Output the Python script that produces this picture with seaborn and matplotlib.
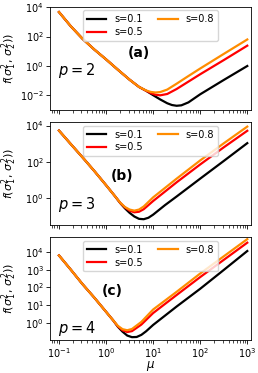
import numpy as np
import pandas as pd
import matplotlib
matplotlib.use("Agg")
import matplotlib.pyplot as plt
import matplotlib.ticker as mticker
import seaborn as sns

# --- data (log10 mu, log10 f) ---
s_labels = ["s=0.1", "s=0.5", "s=0.8"]
s_colors = ["black", "red", "darkorange"]
p_labels = ["$p=2$", "$p=3$", "$p=4$"]
panel_tags = ["(a)", "(b)", "(c)"]

# p = 2: shared descending branch, then one tail per s
a_common_mu = [-1.0, -0.75, -0.5, -0.25, 0.0, 0.25, 0.5, 0.7]
a_common_f = [3.66, 2.7, 1.85, 1.12, 0.45, -0.25, -0.93, -1.42]
a_s01_mu = [0.85, 1.0, 1.15, 1.3, 1.4, 1.5, 1.6, 1.75, 2.0, 2.5, 3.0]
a_s01_f = [-1.68, -1.98, -2.27, -2.53, -2.65, -2.7, -2.67, -2.47, -1.92, -0.95, 0.0]
a_s05_mu = [0.85, 0.95, 1.05, 1.15, 1.3, 1.5, 1.75, 2.0, 2.5, 3.0]
a_s05_f = [-1.68, -1.84, -1.95, -1.99, -1.9, -1.56, -1.06, -0.56, 0.4, 1.38]
a_s08_mu = [0.85, 0.95, 1.05, 1.15, 1.3, 1.5, 1.75, 2.0, 2.5, 3.0]
a_s08_f = [-1.66, -1.76, -1.80, -1.77, -1.6, -1.2, -0.68, -0.17, 0.82, 1.8]

# p = 3
b_common_mu = [-1.0, -0.75, -0.5, -0.25, 0.0, 0.2]
b_common_f = [3.72, 2.98, 2.25, 1.5, 0.72, 0.08]
b_s01_mu = [0.3, 0.4, 0.5, 0.6, 0.7, 0.8, 0.9, 1.0, 1.25, 1.5, 2.0, 2.5, 3.0]
b_s01_f = [-0.26, -0.55, -0.8, -1.0, -1.13, -1.15, -1.07, -0.9, -0.38, 0.1, 1.08, 2.05, 3.03]
b_s05_mu = [0.3, 0.4, 0.5, 0.6, 0.7, 0.8, 1.0, 1.5, 2.0, 2.5, 3.0]
b_s05_f = [-0.25, -0.5, -0.68, -0.77, -0.74, -0.6, -0.15, 0.88, 1.86, 2.8, 3.71]
b_s08_mu = [0.3, 0.4, 0.5, 0.6, 0.7, 0.8, 1.0, 1.5, 2.0, 2.5, 3.0]
b_s08_f = [-0.24, -0.48, -0.62, -0.68, -0.62, -0.45, 0.05, 1.08, 2.08, 3.02, 3.94]

# p = 4
c_common_mu = [-1.0, -0.75, -0.5, -0.25, 0.0, 0.15]
c_common_f = [3.8, 3.0, 2.18, 1.42, 0.62, 0.14]
c_s01_mu = [0.25, 0.35, 0.45, 0.55, 0.65, 0.75, 0.85, 1.0, 1.5, 2.0, 2.5, 3.0]
c_s01_f = [-0.22, -0.5, -0.72, -0.81, -0.8, -0.68, -0.48, -0.12, 0.92, 1.92, 2.98, 4.05]
c_s05_mu = [0.25, 0.35, 0.45, 0.55, 0.75, 1.0, 1.5, 2.0, 2.5, 3.0]
c_s05_f = [-0.2, -0.42, -0.52, -0.47, -0.1, 0.55, 1.57, 2.58, 3.55, 4.52]
c_s08_mu = [0.25, 0.35, 0.45, 0.55, 0.75, 1.0, 1.5, 2.0, 2.5, 3.0]
c_s08_f = [-0.17, -0.36, -0.42, -0.35, 0.05, 0.75, 1.75, 2.78, 3.75, 4.72]

panels = [
    (a_common_mu, a_common_f, [(a_s01_mu, a_s01_f), (a_s05_mu, a_s05_f), (a_s08_mu, a_s08_f)]),
    (b_common_mu, b_common_f, [(b_s01_mu, b_s01_f), (b_s05_mu, b_s05_f), (b_s08_mu, b_s08_f)]),
    (c_common_mu, c_common_f, [(c_s01_mu, c_s01_f), (c_s05_mu, c_s05_f), (c_s08_mu, c_s08_f)]),
]

# --- long table ---
rows = []
for k, (cmu, cf, tails) in enumerate(panels):
    for lab, (tmu, tf) in zip(s_labels, tails):
        for lm, lf in zip(cmu + tmu, cf + tf):
            rows.append({"panel": k, "s": lab, "mu": 10 ** lm, "f": 10 ** lf})
df = pd.DataFrame(rows)

# --- figure ---
fig, axes = plt.subplots(3, 1, figsize=(2.58, 3.73), dpi=100, sharex=True)
fig.subplots_adjust(left=0.194, right=0.973, top=0.981, bottom=0.088, hspace=0.12)

ylims = [(10 ** -2.98, 10 ** 4.0), (10 ** -1.47, 10 ** 4.18), (10 ** -0.98, 10 ** 4.82)]
yticks = [[1e-2, 1e0, 1e2, 1e4], [1e0, 1e2, 1e4], [1e0, 1e1, 1e2, 1e3, 1e4]]
tag_pos = [(0.44, 0.55), (0.36, 0.48), (0.31, 0.48)]
p_pos = [(0.04, 0.38), (0.04, 0.2), (0.04, 0.11)]

for k, ax in enumerate(axes):
    sub = df[df["panel"] == k]
    sns.lineplot(data=sub, x="mu", y="f", hue="s", hue_order=s_labels,
                 palette=s_colors, sort=False, estimator=None, lw=1.6, ax=ax)
    ax.set_xscale("log"); ax.set_yscale("log")
    ax.set_xlim(10 ** -1.19, 10 ** 3.08)
    ax.set_ylim(*ylims[k])
    ax.yaxis.set_major_locator(mticker.FixedLocator(yticks[k]))
    ax.yaxis.set_minor_locator(mticker.NullLocator())
    ax.tick_params(labelsize=7, length=3, width=0.6, pad=1.5)
    ax.tick_params(which="minor", length=1.8, width=0.5)
    ax.set_xlabel("")
    ax.set_ylabel(r"$f(\sigma_1^2,\,\sigma_2^2))$", fontsize=8)
    ax.yaxis.set_label_coords(-0.155, 0.5)
    ax.legend(loc="upper center", ncol=2, fontsize=7, handlelength=2,
              borderaxespad=0.35, columnspacing=1.6, handletextpad=0.8,
              labelspacing=0.3, borderpad=0.4)
    ax.text(*tag_pos[k], panel_tags[k], transform=ax.transAxes, fontsize=10,
            fontweight="bold", ha="center", va="center")
    ax.text(*p_pos[k], p_labels[k], transform=ax.transAxes, fontsize=10.5,
            ha="left", va="center")
    for sp in ax.spines.values():
        sp.set_linewidth(0.6)

axes[-1].set_xlabel(r"$\mu$", fontsize=8.5, labelpad=-1)

plt.savefig("out.png", dpi=100)
